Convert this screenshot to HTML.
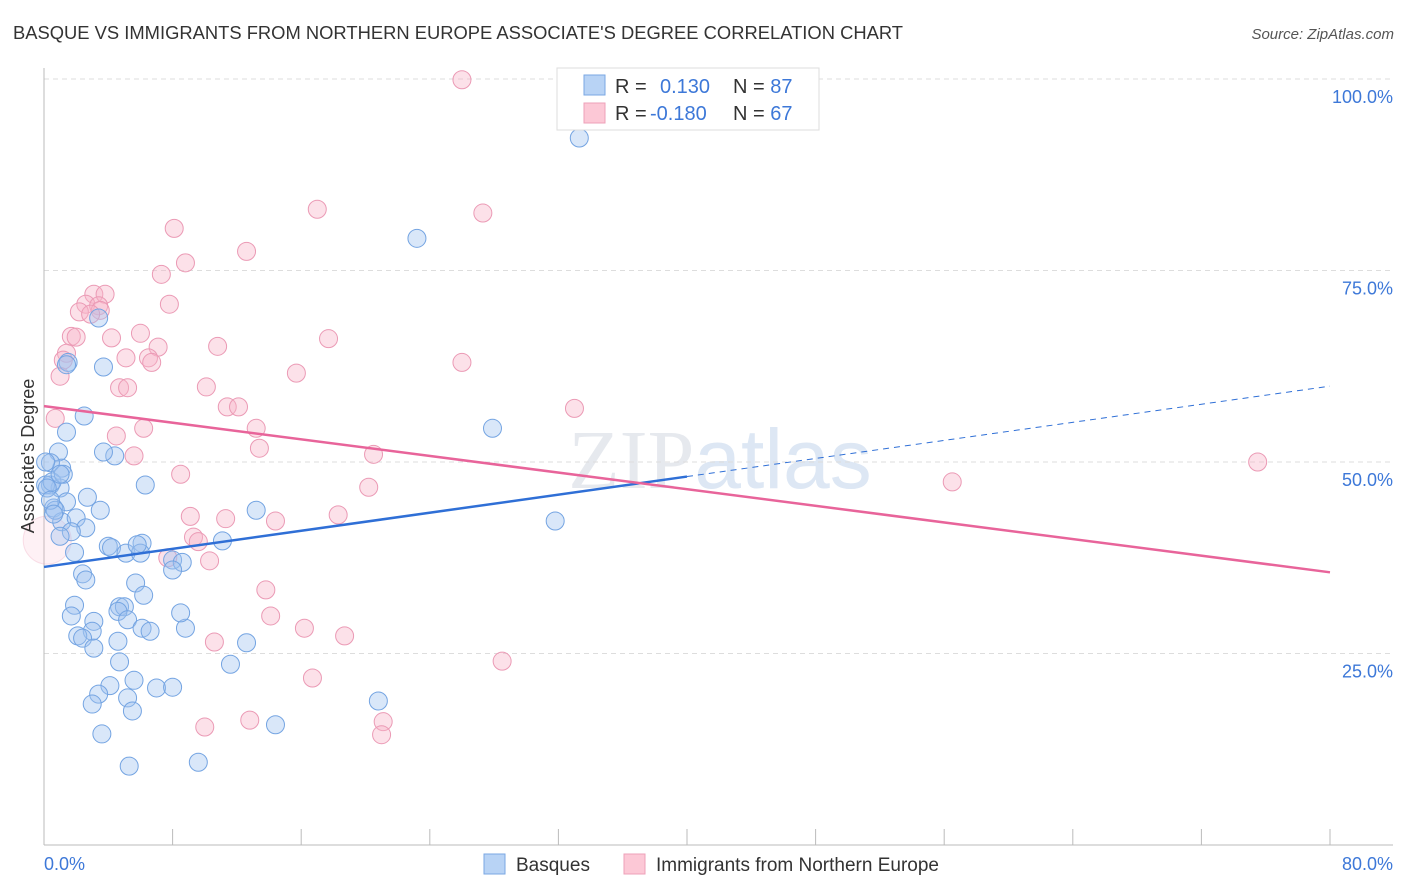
<!DOCTYPE html>
<html><head><meta charset="utf-8"><style>
body{margin:0;background:#fff;font-family:"Liberation Sans",sans-serif}
svg{display:block}
</style></head><body>
<svg id="c" width="1406" height="892">
<text x="13" y="39" font-size="18" fill="#333" textLength="890" lengthAdjust="spacingAndGlyphs">BASQUE VS IMMIGRANTS FROM NORTHERN EUROPE ASSOCIATE'S DEGREE CORRELATION CHART</text>
<text x="1394" y="39" font-size="15" fill="#555" font-style="italic" text-anchor="end">Source: ZipAtlas.com</text>
<text x="720" y="488" font-size="84" fill="#e6e9ee" text-anchor="middle" font-family="Liberation Serif">ZIP<tspan fill="#dde7f4" font-family="Liberation Sans">atlas</tspan></text>
<g id="grid"></g><g id="pts"></g><g id="trend"></g>
<text transform="translate(34,456) rotate(-90)" font-size="18" fill="#333" text-anchor="middle">Associate's Degree</text>
<text x="44" y="870" font-size="18" fill="#3d78d8">0.0%</text>
<text x="1393" y="870" font-size="18" fill="#3d78d8" text-anchor="end">80.0%</text>
<g>
<rect x="557" y="68" width="262" height="62" fill="#fff" stroke="#ddd"/>
<rect x="584" y="75" width="21" height="20" fill="#b8d3f5" stroke="#7aa7e3"/>
<rect x="584" y="103" width="21" height="20" fill="#fcc8d6" stroke="#eea0b8"/>
<text x="615" y="93" font-size="20" fill="#333">R = <tspan x="660" fill="#3d78d8">0.130</tspan><tspan x="733" fill="#333">N = </tspan><tspan fill="#3d78d8">87</tspan></text>
<text x="615" y="120" font-size="20" fill="#333">R = <tspan x="650" fill="#3d78d8">-0.180</tspan><tspan x="733" fill="#333">N = </tspan><tspan fill="#3d78d8">67</tspan></text>
</g>
<g>
<rect x="484" y="854" width="21" height="20" fill="#b8d3f5" stroke="#7aa7e3"/>
<text x="516" y="871" font-size="19" fill="#333">Basques</text>
<rect x="624" y="854" width="21" height="20" fill="#fcc8d6" stroke="#eea0b8"/>
<text x="656" y="871" font-size="19" fill="#333">Immigrants from Northern Europe</text>
</g>
</svg>
<script>
const yTicks=[25,50,75,100];
const yTickLabels=["25.0%","50.0%","75.0%","100.0%"];
const xTicks=[0,8,16,24,32,40,48,56,64,72,80];
const blueX=[33.3,23.2,3.4,1.5,3.7,27.9,2.5,1.4,0.9,1.1,4.4,6.3,0.4,0.4,1.0,2.7,1.4,0.6,3.5,1.1,2.0,2.6,1.7,1.0,13.2,31.8,4.0,4.2,6.1,5.1,6.0,1.9,11.1,8.0,8.6,8.0,2.4,2.6,5.7,6.2,1.9,1.7,4.7,5.0,4.6,3.1,3.0,5.2,6.1,6.6,8.8,2.1,2.4,3.1,4.6,12.6,8.5,4.7,11.6,5.6,4.1,3.4,7.0,8.0,5.2,3.0,5.5,20.8,14.4,3.6,5.3,9.6,0.1,0.1,0.5,0.2,0.7,1.2,3.7,1.0,5.8,1.4,0.4,0.6];
const blueY=[92.3,79.2,68.8,63.0,62.4,54.4,56.0,53.9,51.3,49.2,50.8,47.0,49.9,47.0,46.6,45.4,44.8,44.0,43.7,42.2,42.7,41.4,40.9,40.3,43.7,42.3,39.0,38.8,39.4,38.1,38.1,38.2,39.7,37.2,36.9,35.9,35.4,34.6,34.2,32.6,31.3,29.9,31.1,31.1,30.5,29.2,27.9,29.4,28.3,27.9,28.3,27.3,27.0,25.7,26.6,26.4,30.3,23.9,23.6,21.5,20.8,19.7,20.5,20.6,19.2,18.4,17.5,18.8,15.7,14.5,10.3,10.8,50.0,47.0,47.4,46.6,43.7,48.4,51.3,48.4,39.2,62.7,45.0,43.2];
const pinkX=[26.0,17.0,27.3,8.1,12.6,8.8,7.3,3.1,3.8,2.6,3.4,7.8,3.5,2.2,2.9,1.7,4.2,6.0,1.4,7.1,10.8,17.7,6.5,6.7,5.1,1.0,26.0,15.7,4.7,10.1,5.2,11.4,12.1,33.0,0.7,4.5,6.2,13.2,5.6,13.4,20.5,8.5,20.2,75.5,56.5,9.1,11.3,14.4,18.3,9.3,9.6,7.7,10.3,13.8,14.1,16.2,18.7,10.6,28.5,16.7,12.8,21.1,10.0,21.0,0.2,1.2,2.0];
const pinkY=[99.9,83.0,82.5,80.5,77.5,76.0,74.5,71.9,71.9,70.6,70.4,70.6,69.8,69.6,69.3,66.4,66.2,66.8,64.2,65.0,65.1,66.1,63.6,63.0,63.6,61.2,63.0,61.6,59.7,59.8,59.7,57.2,57.2,57.0,55.7,53.4,54.4,54.4,50.8,51.8,51.0,48.4,46.7,50.0,47.4,42.9,42.6,42.3,43.1,40.2,39.6,37.5,37.1,33.3,29.9,28.3,27.3,26.5,24.0,21.8,16.3,16.1,15.4,14.4,39.8,63.3,66.3];
const blueTrend=[36.3,59.9];
const pinkTrend=[57.3,35.6];
const NS="http://www.w3.org/2000/svg";
const X=v=>44+v/80*1286, Y=v=>845-v/100*766;
function mk(tag,a,parent){const e=document.createElementNS(NS,tag);for(const k in a)e.setAttribute(k,a[k]);parent.appendChild(e);return e;}
const grid=document.getElementById('grid');
yTicks.forEach((t,i)=>{
  const l=mk('line',{x1:44,x2:1393,y1:Y(t),y2:Y(t),stroke:'#ddd','stroke-dasharray':'5,4'},grid);
  
  
  const tx=mk('text',{x:1393,y:Y(t)+24,'font-size':18,fill:'#3d78d8','text-anchor':'end'},grid);
  tx.textContent=yTickLabels[i];
  
  
});
const ax=mk('line',{x1:44,x2:44,y1:68,y2:845,stroke:'#bbb'},grid);


const bx=mk('line',{x1:44,x2:1393,y1:845,y2:845,stroke:'#bbb'},grid);


xTicks.forEach(t=>{
  const l=mk('line',{x1:X(t),x2:X(t),y1:829,y2:845,stroke:'#bbb'},grid);
  
  
});
const pts=document.getElementById('pts');
pinkX.forEach((v,i)=>{
  const big=(i===64);
  const c=mk('circle',{cx:X(v),cy:Y(pinkY[i]),r:big?24:9,fill:big?'rgba(248,180,200,0.18)':'rgba(248,180,200,0.4)',stroke:big?'rgba(235,154,181,0.3)':'#eb9ab5','stroke-width':1},pts);
  
  
});
blueX.forEach((v,i)=>{
  const c=mk('circle',{cx:X(v),cy:Y(blueY[i]),r:9,fill:'rgba(160,196,240,0.4)',stroke:'#74a4e2','stroke-width':1},pts);
  
  
});
const tr=document.getElementById('trend');
const bAt=x=>blueTrend[0]+(blueTrend[1]-blueTrend[0])*x/80;
let l1=mk('line',{x1:X(0),y1:Y(bAt(0)),x2:X(40),y2:Y(bAt(40)),stroke:'#2f6fd6','stroke-width':2.5},tr);


let l2=mk('line',{x1:X(40),y1:Y(bAt(40)),x2:X(80),y2:Y(bAt(80)),stroke:'#2f6fd6','stroke-width':1,'stroke-dasharray':'6,5'},tr);


let l3=mk('line',{x1:X(0),y1:Y(pinkTrend[0]),x2:X(80),y2:Y(pinkTrend[1]),stroke:'#e8649a','stroke-width':2.5},tr);


</script>
</body></html>
